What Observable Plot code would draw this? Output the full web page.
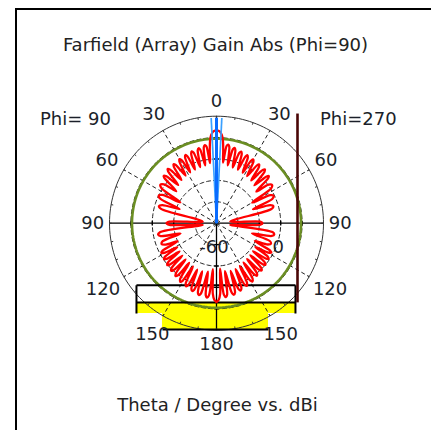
<!DOCTYPE html>
<html><head><meta charset="utf-8">
<script src="https://cdn.jsdelivr.net/npm/d3@7"></script>
<script src="https://cdn.jsdelivr.net/npm/@observablehq/plot@0.6"></script>
<style>
html,body{margin:0;padding:0;background:#fff;}
#wrap{position:relative;width:431px;height:430px;overflow:hidden;font-family:"DejaVu Sans",sans-serif;color:#1b1f2a;}
#frame{position:absolute;left:15px;top:8px;width:500px;height:500px;border-left:2px solid #000;border-top:2px solid #000;}
.t{position:absolute;font-size:18px;line-height:22px;white-space:nowrap;}
#title{top:34px;left:0;width:431px;text-align:center;color:#222;}
#caption{top:394px;left:2px;width:431px;text-align:center;color:#222;}
#phiL{top:108px;left:40px;}
#phiR{top:108px;left:320px;}
#chart{position:absolute;left:0;top:0;}
</style></head><body>
<div id="wrap">
 <div id="chart"></div>
 <div class="t" id="title">Farfield (Array) Gain Abs (Phi=90)</div>
 <div class="t" id="phiL">Phi= 90</div>
 <div class="t" id="phiR">Phi=270</div>
 <div class="t" id="caption">Theta / Degree vs. dBi</div>
 <div id="frame"></div>
</div>
<script>
// ---- radial scale (dBi) ----
const rMin = -60, rMax = 40;
const ringLevels = [-40, -20, 0, 20];
const ringLabels = [-60, 0];
const spokeAngles = [30, 60, 120, 150];
const angleLabels = [0, 30, 60, 90, 120, 150, 180];
const mainLobeDir = 0;          // degrees theta
const beamHalfWidth = 2.9;      // half of 3 dB angular width
const greenLevel = 19;          // dBi circle

// ---- Phi = 90 cut (drawn on the left), theta in degrees, gain in dBi ----
const thetaL = [0,2,3.5,4.5,5.3,6.2,7.5,8.5,9.5,11,12.5,13.5,14.5,16.2,18,19,20,21.8,23.5,24.5,25.5,27.3,29,30,31,33,35,36,37,39,41,42,43,45,47,48,49,51.5,53.5,55.5,57.5,60,62.5,64.5,66.5,69,71.5,73.5,75.5,83.5,88,90,92,96.5,99,101,103,106,108.5,110.5,112.5,115,117,118.3,119.5,121.5,123,124.3,125.5,127.5,129,130.3,131.5,133.5,135,136.3,137.5,139.5,141,142.3,143.5,145.5,147,148.3,149.5,151.5,153,154.3,155.5,157.5,159,160.3,161.5,163.5,165,166.3,167.5,170,171.5,172.7,174,175.5,177,178.3,180];
const gainL  = [26.9,25.8,22.5,17,8,-3.5,12.5,13.8,12.0,-5.0,10.5,12.0,10.2,-5.5,9.5,11.0,9.2,-6.0,8.3,10.1,8.3,-6.5,7.4,9.2,7.4,-7.0,6.4,8.2,6.4,-8.0,6.4,8.2,6.4,-9.5,4.6,6.4,4.6,-12,1.0,3.6,1.0,-21,-2.8,-0.2,-2.8,-23,-6.5,-3.9,-6.5,-47,-16,-13.3,-16,-47,-6.5,-4.4,-6.5,-25,-7,-5,-7.5,-20,-3.5,-1.5,-3.5,-17,-2.5,-0.5,-2.5,-16.5,-1.5,0.5,-1.5,-16,-0.5,1.5,-0.5,-15.5,0.5,2.5,0.5,-15,2.5,4.5,2.5,-14,3.5,5.5,3.5,-13,5.5,7.3,5.5,-13,7.3,9.2,7.3,-14,8,10,8,-17,6,11.5,13.8];
// ---- Phi = 270 cut (drawn on the right) ----
const thetaR = [0,2,3.5,4.5,5.3,6.2,7.5,8.5,9.5,11,12.5,13.5,14.5,16.2,18,19,20,21.8,23.5,24.5,25.5,27.3,29,30,31,33,35,36,37,39,41,42,43,45,47,48,49,51.5,53.5,55.5,57.5,60,62.5,64.5,66.5,69,71.5,73.5,75.5,83.5,88,90,92,96.5,99,101,103,106,108.5,110.5,112.5,115,117,118.3,119.5,121.5,123,124.3,125.5,127.5,129,130.3,131.5,133.5,135,136.3,137.5,139.5,141,142.3,143.5,145.5,147,148.3,149.5,151.5,153,154.3,155.5,157.5,159,160.3,161.5,163.5,165,166.3,167.5,170,171.5,172.7,174,175.5,177,178.3,180];
const gainR  = [26.9,25.8,22.5,17,8,-3.0,13.0,14.3,12.5,-5.0,10.8,12.4,10.5,-5.8,9.2,10.8,9.0,-6.2,8.0,9.8,8.0,-6.8,7.0,8.8,7.0,-7.5,6.0,7.8,6.0,-8.5,5.8,7.6,5.8,-10,4.0,5.8,4.0,-12.5,0.5,3.0,0.5,-21.5,-3.2,-0.8,-3.2,-23.5,-7.0,-4.5,-7.0,-47,-19,-17,-19,-47,-7.0,-5.0,-7.0,-25.5,-7.5,-5.5,-8.0,-20.5,-4.0,-2.0,-4.0,-17.5,-3.0,-1.0,-3.0,-17,-2.0,0.0,-2.0,-16.5,-1.0,1.0,-1.0,-16,0.0,2.0,0.0,-15.5,2.0,4.0,2.0,-14.5,3.0,5.0,3.0,-13.5,5.0,7.0,5.0,-13.5,7.0,8.8,7.0,-14.5,7.5,9.6,7.5,-17.5,6,11.5,13.8];

// ---- overlay items, in chart units (radius units = dB above rMin) ----
const yellowBoxes = [
  {x1: -74.8, x2: 73.8, y1: -74, y2: -84.4},
  {x1: -50.5, x2: 48.6, y1: -84.4, y2: -99.3}
];
const blackSegments = [
  {x1: -74.8, y1: -58, x2: 73.8, y2: -58},
  {x1: -74.8, y1: -74, x2: 73.8, y2: -74},
  {x1: -74.8, y1: -58, x2: -74.8, y2: -84.4},
  {x1: 73.8, y1: -58, x2: 73.8, y2: -84.4},
  {x1: -50.5, y1: -99.3, x2: 48.6, y2: -99.3}
];
const markerLine = [{x1: 75.7, y1: 102.5, x2: 75.7, y2: -74}];

// ---- geometry helpers ----
const R = rMax - rMin;
const rad = d => d * Math.PI / 180;
const P = (theta, radius, side) => ({x: side * radius * Math.sin(rad(theta)), y: radius * Math.cos(rad(theta))});
const circle = radius => d3.range(0, 361, 2).map(a => P(a, radius, 1));

const pattern = [
  ...thetaL.map((t, i) => P(t, gainL[i] - rMin, -1)),
  ...thetaR.map((t, i) => P(t, gainR[i] - rMin, 1)).reverse()
];

const spokes = [];
for (const a of spokeAngles) for (const s of [-1, 1]) { const p = P(a, R, s); spokes.push({x1: 0, y1: 0, x2: p.x, y2: p.y}); }
const rimTicks = d3.range(0, 360, 10).map(a => { const p = P(a, R, 1), q = P(a, R - 2, 1); return {x1: p.x, y1: p.y, x2: q.x, y2: q.y}; });
const axisTicks = [];
for (const l of ringLevels) {
  const r = l - rMin;
  for (const s of [-1, 1]) {
    axisTicks.push({x1: s * r, y1: -2.2, x2: s * r, y2: 2.2});
    axisTicks.push({x1: -2.2, y1: s * r, x2: 2.2, y2: s * r});
  }
}
const axes = [{x1: -R, y1: 0, x2: R, y2: 0}, {x1: 0, y1: -R, x2: 0, y2: R}];

// angle labels: the text box sits just outside a circle slightly beyond the rim
const labelData = [];
for (const a of angleLabels) {
  const txt = String(a);
  const halfW = 5.35 * txt.length / 1.07, halfH = 8.5 / 1.07;   // approximate text box, chart units
  const rr = 105.6 + Math.abs(halfW * Math.sin(rad(a))) + Math.abs(halfH * Math.cos(rad(a)));
  for (const s of (a === 0 || a === 180 ? [1] : [-1, 1])) labelData.push({...P(a, rr, s), text: txt});
}
const ringLabelData = ringLabels.map(l => ({x: l - rMin, y: 0, text: String(l)}));

const mainTip = P(mainLobeDir, R - 1.5, 1);
const beamLines = [-1, 1].map(s => { const p = P(mainLobeDir + s * beamHalfWidth, R - 1.5, 1); return {x1: 0, y1: 0, x2: p.x, y2: p.y}; });

const seg = {x1: "x1", y1: "y1", x2: "x2", y2: "y2"};
const chart = Plot.plot({
  width: 431, height: 430, margin: 0,
  x: {domain: [-100, 100], range: [109, 323], axis: null},
  y: {domain: [-100, 100], range: [329.7, 115.7], axis: null},
  style: {background: "transparent", fontFamily: "DejaVu Sans", overflow: "visible"},
  marks: [
    Plot.rect(yellowBoxes, {...seg, fill: "#ffff00"}),
    ...ringLevels.map(l => Plot.line(circle(l - rMin), {x: "x", y: "y", stroke: "#222", strokeWidth: 1, strokeDasharray: "4,3"})),
    Plot.link(spokes, {...seg, stroke: "#222", strokeWidth: 1, strokeDasharray: "4,3"}),
    Plot.link(axes, {...seg, stroke: "#000", strokeWidth: 1.3}),
    Plot.link(axisTicks, {...seg, stroke: "#000", strokeWidth: 1.3}),
    Plot.line(circle(R), {x: "x", y: "y", stroke: "#333", strokeWidth: 1}),
    Plot.link(rimTicks, {...seg, stroke: "#333", strokeWidth: 1}),
    Plot.line(circle(greenLevel - rMin), {x: "x", y: "y", stroke: "#6b8e23", strokeWidth: 2.6}),
    Plot.link(blackSegments, {...seg, stroke: "#000", strokeWidth: 2}),
    Plot.line(pattern, {x: "x", y: "y", stroke: "#ff0000", strokeWidth: 2.3, curve: "catmull-rom"}),
    Plot.link(beamLines, {...seg, stroke: "#3aa0ff", strokeWidth: 1.7}),
    Plot.link([{x1: 0, y1: 0, x2: mainTip.x, y2: mainTip.y}], {...seg, stroke: "#0a6cff", strokeWidth: 3}),
    Plot.link(markerLine, {...seg, stroke: "#4a0606", strokeWidth: 2.6}),
    Plot.text(labelData, {x: "x", y: "y", text: "text", fontSize: 18, fill: "#1b1f2a"}),
    Plot.text(ringLabelData, {x: "x", y: "y", text: "text", fontSize: 18, fill: "#1b1f2a", dx: -2.5, dy: 24})
  ]
});
document.getElementById("chart").appendChild(chart);
</script>
</body></html>
